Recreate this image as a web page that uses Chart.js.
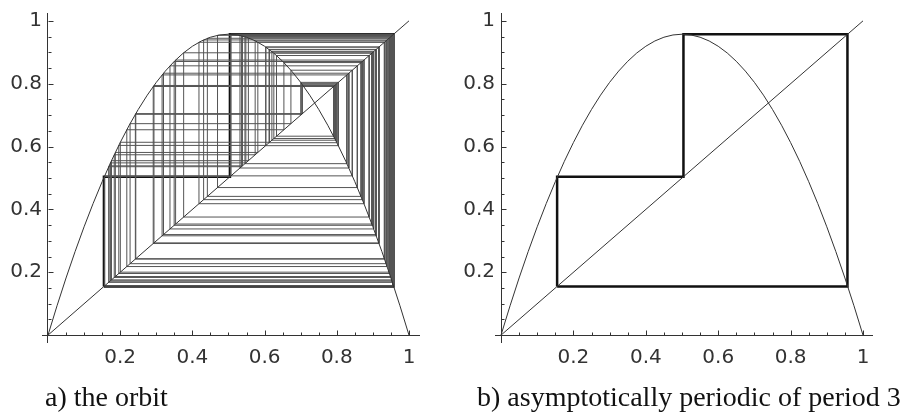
<!DOCTYPE html>
<html>
<head>
<meta charset="utf-8">
<script src="https://cdn.jsdelivr.net/npm/chart.js@4.4.1/dist/chart.umd.min.js"></script>
<style>
  body { margin: 0; background: #fff; }
  #page { position: relative; width: 909px; height: 415px; overflow: hidden; background: #fff; }
  canvas { position: absolute; top: 0; }
  #chartA { left: 0; }
  #chartB { left: 450px; }
  .caption { position: absolute; top: 383px; font: 28px "Liberation Serif", "Times New Roman", serif; line-height: 28px; color: #111; white-space: nowrap; }
  #capA { left: 45px; }
  #capB { left: 477px; }
</style>
</head>
<body>
<div id="page">
  <canvas id="chartA" width="450" height="415"></canvas>
  <canvas id="chartB" width="459" height="415"></canvas>
  <div class="caption" id="capA"></div>
  <div class="caption" id="capB"></div>
</div>
<script>
// the map
const curveX = [0, 0.025, 0.05, 0.075, 0.1, 0.125, 0.15, 0.175, 0.2, 0.225, 0.25, 0.275, 0.3, 0.325, 0.35, 0.375, 0.4, 0.425, 0.45, 0.475, 0.5,
                0.525, 0.55, 0.575, 0.6, 0.625, 0.65, 0.675, 0.7, 0.725, 0.75, 0.775, 0.8, 0.825, 0.85, 0.875, 0.9, 0.925, 0.95, 0.975, 1];
const curveY = [0, 0.0934, 0.1819, 0.2657, 0.3447, 0.4189, 0.4883, 0.5530, 0.6128, 0.6679, 0.7181, 0.7636, 0.8043, 0.8402, 0.8713, 0.8977, 0.9192, 0.9360, 0.9479, 0.9551, 0.9575,
                0.9551, 0.9479, 0.9360, 0.9192, 0.8977, 0.8713, 0.8402, 0.8043, 0.7636, 0.7181, 0.6679, 0.6128, 0.5530, 0.4883, 0.4189, 0.3447, 0.2657, 0.1819, 0.0934, 0];

const diagX = [0, 1];
const diagY = [0, 1];

// orbit values (transient), estimated from the cobweb lines
const orbit = [0.7000, 0.8043, 0.6029, 0.9170, 0.2915, 0.7911, 0.6330, 0.8897, 0.3758, 0.8984,
               0.3495, 0.8707, 0.4311, 0.9393, 0.2183, 0.6535, 0.8673, 0.4415, 0.9446, 0.2004,
               0.6137, 0.9080, 0.3200, 0.8334, 0.5318, 0.9536, 0.1693, 0.5387, 0.9518, 0.1759,
               0.5551, 0.9459, 0.1961, 0.6037, 0.9163, 0.2936, 0.7944, 0.6256, 0.8971, 0.3535,
               0.8753, 0.4182, 0.9319, 0.2432, 0.7049, 0.7968, 0.6202, 0.9022, 0.3379, 0.8569,
               0.4696, 0.9540, 0.1682, 0.5359, 0.9526, 0.1730, 0.5481, 0.9487, 0.1866, 0.5813,
               0.9322, 0.2420, 0.7026, 0.8002, 0.6123, 0.9092, 0.3161, 0.8280, 0.5456, 0.9495,
               0.1835, 0.5739, 0.9366, 0.2274, 0.6729, 0.8430, 0.5068, 0.9573, 0.1565, 0.5056,
               0.9574, 0.1563, 0.5050];

// the attracting period 3 cycle
const cycle = [0.155, 0.504, 0.957];

const labelValues = [0, 0.2, 0.4, 0.6, 0.8, 1];
const tickValues = [0.05, 0.1, 0.15, 0.2, 0.25, 0.3, 0.35, 0.4, 0.45, 0.5, 0.55, 0.6, 0.65, 0.7, 0.75, 0.8, 0.85, 0.9, 0.95, 1];
const captions = ["a) the orbit", "b) asymptotically periodic of period 3"];

document.getElementById("capA").textContent = captions[0];
document.getElementById("capB").textContent = captions[1];

function toPoints(xs, ys)
{
  return xs.map((x, i) => ({x: x, y: ys[i]}));
}

function cobweb(values, closed)
{
  var pts = [{x: values[0], y: values[0]}];
  for (var i = 0; i < values.length - 1; i++)
  {
    pts.push({x: values[i], y: values[i + 1]});
    pts.push({x: values[i + 1], y: values[i + 1]});
  }
  if (closed)
  {
    var last = values[values.length - 1];
    pts.push({x: last, y: values[0]});
    pts.push({x: values[0], y: values[0]});
  }
  return pts;
}

function lineSet(data, width, color)
{
  return {data: data, showLine: true, fill: false, borderColor: color, borderWidth: width,
          pointRadius: 0, tension: 0, borderJoinStyle: "miter", borderCapStyle: "butt"};
}

// tick marks point into the plot, as in the original
const innerTicks = {
  id: "innerTicks",
  afterDatasetsDraw(chart)
  {
    const ctx = chart.ctx;
    const xs = chart.scales.x, ys = chart.scales.y;
    const x0 = Math.round(xs.getPixelForValue(0)) + 0.5;
    const y0 = Math.round(ys.getPixelForValue(0)) + 0.5;
    ctx.save();
    ctx.strokeStyle = "#333";
    ctx.lineWidth = 1;
    ctx.beginPath();
    for (const v of tickValues)
    {
      const len = labelValues.includes(v) ? 5 : 3;
      const px = Math.round(xs.getPixelForValue(v)) + 0.5;
      ctx.moveTo(px, y0);
      ctx.lineTo(px, y0 - len);
      const py = Math.round(ys.getPixelForValue(v)) + 0.5;
      ctx.moveTo(x0, py);
      ctx.lineTo(x0 + len, py);
    }
    ctx.stroke();
    ctx.restore();
  }
};

const tickFont = {family: "DejaVu Sans", size: 20};

function axisGrid()
{
  return {drawTicks: false, lineWidth: 1, color: c => (c.tick && c.tick.value === 0) ? "#333" : "rgba(0,0,0,0)"};
}

function drawPanel(canvasId, datasets, yWidth, rightPad, xMin, xMax)
{
  return new Chart(document.getElementById(canvasId), {
    type: "scatter",
    data: {datasets: datasets},
    options: {
      responsive: false,
      animation: false,
      layout: {padding: {left: 0, right: rightPad, top: 13, bottom: 32}},
      plugins: {legend: {display: false}, tooltip: {enabled: false}},
      scales: {
        x: {
          type: "linear", min: xMin, max: xMax,
          border: {display: false},
          grid: axisGrid(),
          afterBuildTicks: s => { s.ticks = labelValues.map(v => ({value: v})); },
          afterFit: s => { s.height = 40; },
          ticks: {callback: v => v === 0 ? "" : String(v), font: tickFont, color: "#333", padding: 3, maxRotation: 0, autoSkip: false}
        },
        y: {
          type: "linear", min: -0.025, max: 1.025,
          border: {display: false},
          grid: axisGrid(),
          afterBuildTicks: s => { s.ticks = labelValues.map(v => ({value: v})); },
          afterFit: s => { s.width = yWidth; },
          ticks: {callback: v => v === 0 ? "" : String(v), font: tickFont, color: "#333", padding: 0, autoSkip: false}
        }
      }
    },
    plugins: [innerTicks]
  });
}

drawPanel("chartA", [
  lineSet(toPoints(curveX, curveY), 1, "#333"),
  lineSet(toPoints(diagX, diagY), 1, "#333"),
  lineSet(cobweb(orbit, false), 1, "#555"),
  lineSet(cobweb(cycle, true), 2.5, "#111")
], 42, 30, -0.0166, 1.0305);

drawPanel("chartB", [
  lineSet(toPoints(curveX, curveY), 1, "#333"),
  lineSet(toPoints(diagX, diagY), 1, "#333"),
  lineSet(cobweb(cycle, true), 2.5, "#111")
], 45, 36, -0.0166, 1.0276);
</script>
</body>
</html>
